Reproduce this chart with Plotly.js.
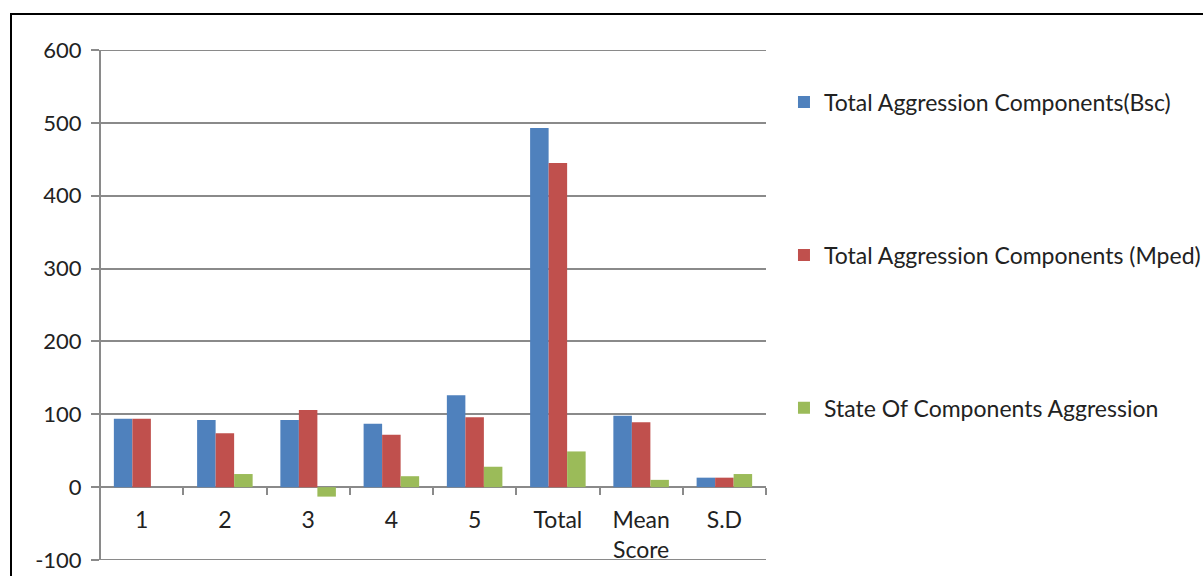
<!DOCTYPE html>
<html>
<head>
<meta charset="utf-8">
<script src="https://cdn.plot.ly/plotly-3.0.1.min.js"></script>
<style>
  html, body { margin: 0; padding: 0; background: #fff; }
  #chart { width: 1203px; height: 576px; }
  #frame { position: absolute; left: 10px; top: 13px; width: 1300px; height: 700px;
           border-left: 2px solid #000; border-top: 2px solid #000; pointer-events: none; }
</style>
</head>
<body>
<div id="chart"></div>
<div id="frame"></div>
<script>
const categories = ["1", "2", "3", "4", "5", "Total", "Mean Score", "S.D"];
const tickLabels = ["1", "2", "3", "4", "5", "Total", "Mean<br>Score", "S.D"];
const yTickValues = [-100, 0, 100, 200, 300, 400, 500, 600];
const yTickLabels = ["-100", "0", "100", "200", "300", "400", "500", "600"];
const seriesNames = [
  "Total Aggression Components(Bsc)",
  "Total Aggression Components (Mped)",
  "State Of Components Aggression"
];
const bscValues = [94, 92, 92, 87, 126, 493, 98, 13];
const mpedValues = [94, 74, 106, 72, 96, 445, 89, 13];
const stateValues = [0, 18, -13, 15, 28, 49, 10, 18];
const seriesColors = ["#4F81BD", "#C0504D", "#9BBB59"];

const seriesValues = [bscValues, mpedValues, stateValues];
const FONT = "Lato, 'Noto Sans', sans-serif";
const FS = 23;
const GRID = "#8a8a8a";
const traces = seriesValues.map((vals, i) => ({
  type: "bar",
  name: seriesNames[i],
  x: categories,
  y: vals,
  legendgroup: "g" + i,
  marker: { color: seriesColors[i], line: { width: 0 } },
  hoverinfo: "x+y+name"
}));

const yMin = yTickValues[0], yMax = yTickValues[yTickValues.length - 1];

const layout = {
  width: 1203,
  height: 576,
  margin: { l: 100, r: 437, t: 50, b: 16, autoexpand: false },
  paper_bgcolor: "#ffffff",
  plot_bgcolor: "#ffffff",
  font: { family: FONT, size: FS, color: "#222222" },
  barmode: "group",
  bargap: 0.333,
  bargroupgap: 0,
  showlegend: true,
  legend: {
    x: 1.027, xanchor: "left",
    y: 0.94, yanchor: "top",
    traceorder: "grouped",
    tracegroupgap: 120,
    font: { family: FONT, size: FS, color: "#222222" },
    bgcolor: "rgba(0,0,0,0)"
  },
  xaxis: {
    type: "category",
    categoryorder: "array",
    categoryarray: categories,
    tickmode: "array",
    tickvals: categories,
    ticktext: tickLabels,
    anchor: "free",
    position: (0 - yMin) / (yMax - yMin),
    showgrid: false,
    showline: false,
    zeroline: false,
    ticks: "outside",
    tickson: "boundaries",
    ticklen: 7,
    tickwidth: 2,
    tickcolor: GRID,
    ticklabelstandoff: 17,
    tickfont: { family: FONT, size: FS, color: "#222222" },
    fixedrange: true
  },
  yaxis: {
    range: [yMin, yMax],
    tickmode: "array",
    tickvals: yTickValues,
    ticktext: yTickLabels,
    showgrid: true,
    gridcolor: GRID,
    gridwidth: 2,
    zeroline: true,
    zerolinecolor: GRID,
    zerolinewidth: 2,
    showline: false,
    ticks: "outside",
    ticklen: 8,
    tickwidth: 2,
    tickcolor: GRID,
    ticklabelstandoff: 5,
    tickfont: { family: FONT, size: 22, color: "#222222" },
    fixedrange: true
  },
  shapes: [
    { type: "line", xref: "paper", yref: "y", x0: 0, x1: 0, y0: yMin, y1: yMax,
      line: { color: GRID, width: 2 } },
    { type: "line", xref: "paper", yref: "y", x0: 0, x1: 1, y0: yMin, y1: yMin,
      line: { color: GRID, width: 2 } },
    { type: "line", xref: "paper", yref: "y", x0: 0, x1: 1, y0: yMax, y1: yMax,
      line: { color: GRID, width: 2 } }
  ]
};

Plotly.newPlot("chart", traces, layout, { displayModeBar: false, staticPlot: true });
</script>
</body>
</html>
